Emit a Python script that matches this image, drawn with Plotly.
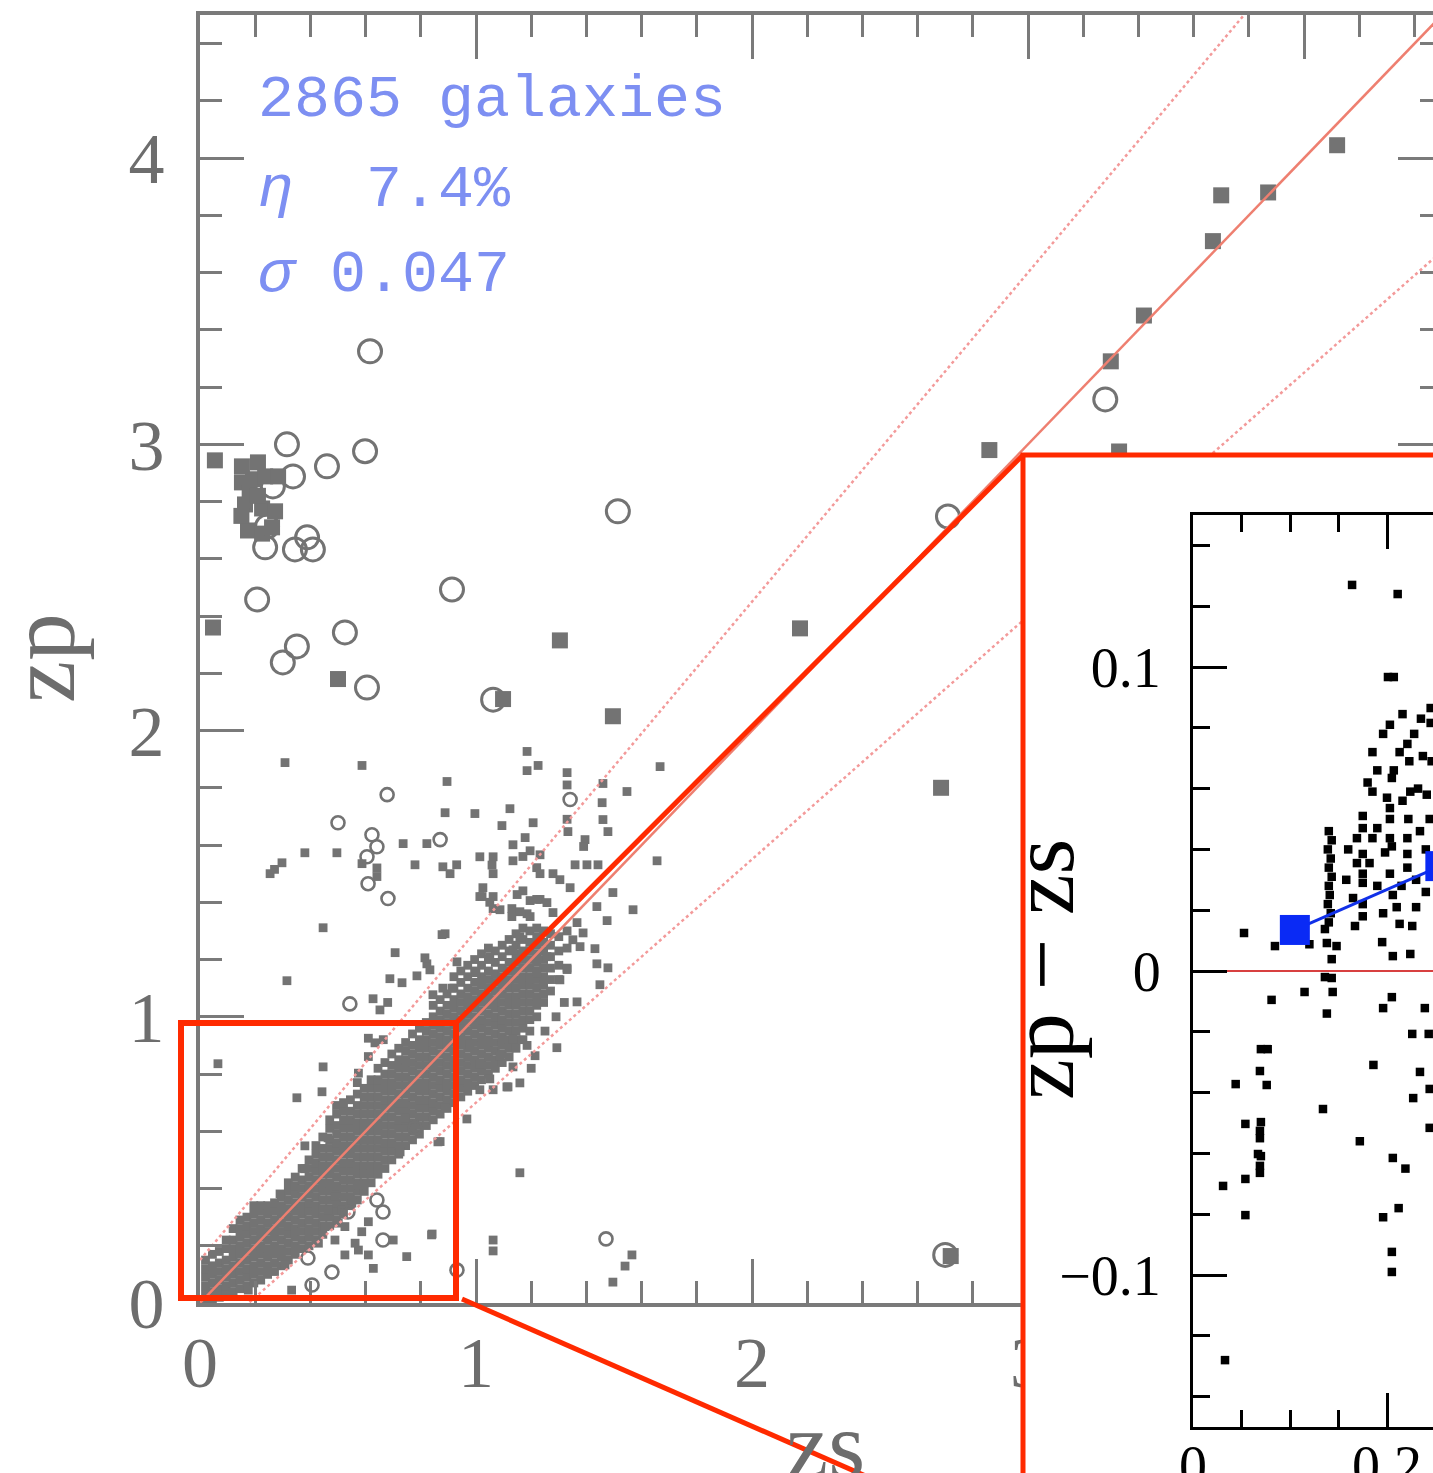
import plotly.graph_objects as go

# ---------------------------------------------------------------------------
# Photometric vs spectroscopic redshift for the galaxy sample
# ---------------------------------------------------------------------------

# Dense core of the zp-zs relation: one entry per zs column, listing zp values
core_zs = [0.02, 0.045, 0.07, 0.095, 0.12, 0.145, 0.17, 0.195, 0.22, 0.245,
           0.27, 0.295, 0.32, 0.345, 0.37, 0.395, 0.42, 0.445, 0.47, 0.495,
           0.52, 0.545, 0.57, 0.595, 0.62, 0.645, 0.67, 0.695, 0.72, 0.745,
           0.77, 0.795, 0.82, 0.845, 0.87, 0.895, 0.92, 0.945, 0.97, 0.995,
           1.02, 1.045, 1.07, 1.095, 1.12, 1.145, 1.17, 1.195, 1.22, 1.245,
           1.27, 1.30, 1.33]
core_zp = [
    [0.00, 0.03, 0.06, 0.09, 0.12, 0.15],
    [0.01, 0.04, 0.07, 0.10, 0.13, 0.17],
    [0.02, 0.05, 0.08, 0.11, 0.14, 0.18],
    [0.03, 0.06, 0.09, 0.12, 0.15, 0.19, 0.22],
    [0.04, 0.07, 0.10, 0.13, 0.16, 0.19, 0.22, 0.26],
    [0.05, 0.08, 0.11, 0.14, 0.17, 0.20, 0.23, 0.26, 0.29],
    [0.06, 0.09, 0.12, 0.15, 0.18, 0.21, 0.24, 0.27, 0.30],
    [0.07, 0.10, 0.13, 0.16, 0.19, 0.22, 0.25, 0.28, 0.31, 0.34],
    [0.08, 0.11, 0.14, 0.17, 0.20, 0.23, 0.26, 0.29, 0.32, 0.34],
    [0.10, 0.13, 0.16, 0.19, 0.22, 0.25, 0.28, 0.31, 0.34],
    [0.11, 0.14, 0.17, 0.20, 0.23, 0.26, 0.29, 0.32, 0.35],
    [0.13, 0.16, 0.19, 0.22, 0.25, 0.28, 0.31, 0.34, 0.37],
    [0.15, 0.18, 0.21, 0.24, 0.27, 0.30, 0.33, 0.36, 0.39, 0.42],
    [0.17, 0.20, 0.23, 0.26, 0.29, 0.32, 0.35, 0.38, 0.41, 0.44],
    [0.19, 0.22, 0.25, 0.28, 0.31, 0.34, 0.37, 0.40, 0.43, 0.47],
    [0.20, 0.23, 0.26, 0.29, 0.32, 0.35, 0.38, 0.41, 0.44, 0.47, 0.50],
    [0.22, 0.25, 0.28, 0.31, 0.34, 0.37, 0.40, 0.43, 0.46, 0.49, 0.52, 0.55],
    [0.24, 0.27, 0.30, 0.33, 0.36, 0.39, 0.42, 0.45, 0.48, 0.51, 0.54, 0.58],
    [0.27, 0.30, 0.33, 0.36, 0.39, 0.42, 0.45, 0.48, 0.51, 0.54, 0.57, 0.61, 0.64],
    [0.29, 0.32, 0.35, 0.38, 0.41, 0.44, 0.47, 0.50, 0.53, 0.56, 0.59, 0.62, 0.66, 0.69],
    [0.31, 0.34, 0.37, 0.40, 0.43, 0.46, 0.49, 0.52, 0.55, 0.58, 0.61, 0.64, 0.67, 0.70],
    [0.34, 0.37, 0.40, 0.43, 0.46, 0.49, 0.52, 0.55, 0.58, 0.61, 0.64, 0.67, 0.71],
    [0.36, 0.39, 0.42, 0.45, 0.48, 0.51, 0.54, 0.57, 0.60, 0.63, 0.66, 0.69, 0.73, 0.77],
    [0.39, 0.42, 0.45, 0.48, 0.51, 0.54, 0.57, 0.60, 0.63, 0.66, 0.69, 0.72, 0.75],
    [0.42, 0.45, 0.48, 0.51, 0.54, 0.57, 0.60, 0.63, 0.66, 0.69, 0.72, 0.75, 0.78],
    [0.45, 0.48, 0.51, 0.54, 0.57, 0.60, 0.63, 0.66, 0.69, 0.72, 0.75, 0.78, 0.82],
    [0.47, 0.50, 0.53, 0.56, 0.59, 0.62, 0.65, 0.68, 0.71, 0.74, 0.77, 0.80, 0.84],
    [0.50, 0.53, 0.56, 0.59, 0.62, 0.65, 0.68, 0.71, 0.74, 0.77, 0.80, 0.83, 0.87],
    [0.52, 0.55, 0.58, 0.61, 0.64, 0.67, 0.70, 0.73, 0.76, 0.79, 0.82, 0.85, 0.89],
    [0.55, 0.58, 0.61, 0.64, 0.67, 0.70, 0.73, 0.76, 0.79, 0.82, 0.85, 0.88, 0.91],
    [0.57, 0.60, 0.63, 0.66, 0.69, 0.72, 0.75, 0.78, 0.81, 0.84, 0.87, 0.90, 0.94],
    [0.59, 0.62, 0.65, 0.68, 0.71, 0.74, 0.77, 0.80, 0.83, 0.86, 0.89, 0.92, 0.96],
    [0.62, 0.65, 0.68, 0.71, 0.74, 0.77, 0.80, 0.83, 0.86, 0.89, 0.92, 0.95, 0.98],
    [0.64, 0.67, 0.70, 0.73, 0.76, 0.79, 0.82, 0.85, 0.88, 0.91, 0.94, 0.97, 1.00, 1.04],
    [0.66, 0.69, 0.72, 0.75, 0.78, 0.81, 0.84, 0.87, 0.90, 0.93, 0.96, 0.99, 1.02, 1.06],
    [0.68, 0.71, 0.74, 0.77, 0.80, 0.83, 0.86, 0.89, 0.92, 0.95, 0.98, 1.01, 1.04, 1.08],
    [0.70, 0.73, 0.76, 0.79, 0.82, 0.85, 0.88, 0.91, 0.94, 0.97, 1.00, 1.03, 1.06, 1.10, 1.14],
    [0.72, 0.75, 0.78, 0.81, 0.84, 0.87, 0.90, 0.93, 0.96, 0.99, 1.02, 1.05, 1.08, 1.12, 1.16],
    [0.74, 0.77, 0.80, 0.83, 0.86, 0.89, 0.92, 0.95, 0.98, 1.01, 1.04, 1.07, 1.10, 1.14, 1.18],
    [0.76, 0.79, 0.82, 0.85, 0.88, 0.91, 0.94, 0.97, 1.00, 1.03, 1.06, 1.09, 1.12, 1.16, 1.20],
    [0.78, 0.81, 0.84, 0.87, 0.90, 0.93, 0.96, 0.99, 1.02, 1.05, 1.08, 1.11, 1.14, 1.18, 1.22],
    [0.80, 0.83, 0.86, 0.89, 0.92, 0.95, 0.98, 1.01, 1.04, 1.07, 1.10, 1.13, 1.16, 1.20, 1.24],
    [0.82, 0.85, 0.88, 0.91, 0.94, 0.97, 1.00, 1.03, 1.06, 1.09, 1.12, 1.15, 1.19, 1.23],
    [0.84, 0.87, 0.90, 0.93, 0.96, 0.99, 1.02, 1.05, 1.08, 1.11, 1.14, 1.17, 1.21, 1.25],
    [0.86, 0.89, 0.92, 0.95, 0.98, 1.01, 1.04, 1.07, 1.10, 1.13, 1.16, 1.19, 1.23, 1.27],
    [0.89, 0.92, 0.95, 0.98, 1.01, 1.04, 1.07, 1.10, 1.13, 1.16, 1.19, 1.22, 1.25, 1.29],
    [0.92, 0.96, 0.99, 1.02, 1.05, 1.08, 1.11, 1.14, 1.17, 1.20, 1.23, 1.27, 1.31],
    [0.95, 0.99, 1.02, 1.05, 1.08, 1.11, 1.14, 1.17, 1.20, 1.23, 1.26, 1.30],
    [1.00, 1.04, 1.07, 1.10, 1.13, 1.16, 1.19, 1.22, 1.25, 1.28, 1.31],
    [1.05, 1.08, 1.11, 1.14, 1.17, 1.20, 1.23, 1.26, 1.30],
    [1.09, 1.13, 1.17, 1.21, 1.25, 1.29],
    [1.13, 1.18, 1.23, 1.28],
    [1.17, 1.24, 1.30],
]

# Individual galaxies outside the dense core (small filled squares)
scatter_pts = [
    (0.308, 1.888), (0.587, 1.878), (0.895, 1.822), (1.185, 1.927), (1.185, 1.86),
    (1.225, 1.878), (1.33, 1.853), (1.33, 1.81), (1.46, 1.815), (1.547, 1.787),
    (1.667, 1.874), (1.457, 1.748), (1.46, 1.689), (1.478, 1.647), (0.888, 1.713),
    (0.996, 1.71), (1.123, 1.727), (1.207, 1.678), (1.094, 1.668), (1.178, 1.626),
    (1.33, 1.69), (1.333, 1.647), (1.395, 1.619), (1.39, 1.595), (1.134, 1.601),
    (1.196, 1.58), (1.17, 1.56), (1.232, 1.566), (0.38, 1.573), (0.496, 1.573),
    (0.297, 1.538), (0.254, 1.50), (0.27, 1.515), (0.736, 1.605), (0.822, 1.605),
    (0.779, 1.531), (0.88, 1.524), (0.906, 1.50), (0.93, 1.531), (0.587, 1.535),
    (0.641, 1.52), (0.641, 1.49), (1.014, 1.559), (1.062, 1.559), (1.058, 1.53),
    (1.062, 1.50), (1.134, 1.545), (1.22, 1.521), (1.232, 1.50), (1.279, 1.50),
    (1.304, 1.479), (1.341, 1.451), (1.359, 1.531), (1.402, 1.531), (1.442, 1.531),
    (1.656, 1.545), (1.025, 1.451), (1.022, 1.42), (1.062, 1.42), (1.062, 1.378),
    (1.13, 1.378), (1.149, 1.427), (1.17, 1.44), (1.196, 1.406), (1.232, 1.41),
    (1.257, 1.399), (1.185, 1.36), (1.13, 1.35), (1.438, 1.385), (1.496, 1.434),
    (1.569, 1.374), (1.475, 1.336), (1.431, 1.238), (1.438, 1.185), (1.478, 1.171),
    (1.449, 1.112), (1.366, 1.052), (1.293, 0.892), (1.112, 0.755), (1.062, 0.745),
    (1.014, 0.745), (0.967, 0.643), (1.159, 0.455), (0.446, 1.311), (0.888, 1.29),
    (0.707, 1.224), (0.315, 1.126), (0.688, 1.133), (0.732, 1.119), (0.786, 1.143),
    (0.822, 1.185), (0.931, 1.192), (0.627, 1.063), (0.68, 1.05), (0.652, 1.024),
    (0.844, 1.077), (0.065, 0.836), (0.446, 0.825), (0.442, 0.738), (0.351, 0.717),
    (0.38, 0.549), (0.38, 0.469), (0.29, 0.381), (1.159, 0.769), (0.725, 0.528),
    (0.862, 0.563), (0.841, 0.241), (1.062, 0.22), (1.062, 0.182), (1.565, 0.168),
    (1.54, 0.129), (1.496, 0.073), (0.464, 0.577),
    (1.304, 1.129), (1.33, 1.165), (1.22, 1.154), (1.257, 1.21), (1.351, 1.269),
    (1.377, 1.245), (1.388, 1.293), (1.366, 1.329), (1.279, 1.364), (1.22, 1.41),
    (1.196, 1.35), (1.159, 1.367), (1.087, 1.374), (1.014, 1.42), (1.05, 1.40),
    (0.877, 1.287), (0.815, 1.206), (0.833, 1.164), (0.913, 1.10), (0.88, 1.10),
    (1.05, 1.21), (1.0, 1.154), (1.134, 1.234), (1.159, 1.28),
    (0.978, 0.906), (1.014, 0.836), (1.087, 0.864), (1.134, 0.923), (1.185, 0.90),
    (1.134, 0.825), (1.05, 0.783), (1.116, 0.755), (1.214, 0.864), (1.25, 0.95),
    (1.20, 0.82), (1.29, 1.0), (1.32, 1.05), (0.888, 0.682), (0.87, 0.564),
    (0.743, 0.646),
    (0.61, 0.925), (0.61, 0.861), (0.574, 0.803), (0.664, 0.92), (0.634, 0.909),
    (0.574, 0.413), (0.513, 0.325), (0.453, 0.267), (0.61, 0.284), (0.586, 0.249),
    (0.574, 0.185), (0.61, 0.168), (0.525, 0.168), (0.628, 0.121), (0.749, 0.162),
    (0.839, 0.238), (0.70, 0.22), (0.308, 0.133), (0.175, 0.045), (0.332, 0.045),
    (0.501, 0.279), (0.489, 0.372), (0.55, 0.349), (0.465, 0.325), (0.525, 0.267),
    (0.562, 0.209), (0.489, 0.22), (0.429, 0.209),
]

# Small open circles
small_circ_zs = [0.678, 0.50, 0.623, 0.641, 0.605, 0.609, 0.681, 0.87, 1.341, 0.543,
                 1.471, 0.931, 0.536, 0.641, 0.663, 0.663, 0.391, 0.478, 0.406, 0.779]
small_circ_zp = [1.776, 1.678, 1.636, 1.594, 1.559, 1.465, 1.413, 1.619, 1.759, 1.045,
                 0.224, 0.115, 0.318, 0.36, 0.318, 0.22, 0.157, 0.108, 0.063, 0.612]

# Large open circles
big_circ_zs = [0.616, 0.315, 0.598, 0.46, 0.337, 0.264, 0.243, 0.236, 0.344, 0.388,
               0.409, 1.514, 0.207, 0.913, 0.351, 0.30, 0.525, 0.605, 1.062, 3.28,
               2.71, 2.70]
big_circ_zp = [3.325, 3.0, 2.976, 2.923, 2.888, 2.853, 2.713, 2.64, 2.633, 2.675,
               2.633, 2.766, 2.458, 2.493, 2.294, 2.238, 2.343, 2.15, 2.108, 3.157,
               2.748, 0.168]

# Large filled squares
big_sq_zs = [0.054, 0.047, 0.50, 1.098, 1.304, 1.496, 2.174, 2.685, 2.86, 3.30,
             3.42, 3.67, 3.70, 3.87, 4.12, 3.33, 2.72,
             0.152, 0.210, 0.152, 0.192, 0.236, 0.283, 0.163, 0.225, 0.272, 0.174,
             0.225, 0.261, 0.18, 0.21, 0.15]
big_sq_zp = [2.944, 2.36, 2.18, 2.11, 2.315, 2.05, 2.357, 1.80, 2.98, 3.29,
             3.45, 3.71, 3.87, 3.88, 4.045, 2.975, 0.164,
             2.923, 2.937, 2.867, 2.878, 2.888, 2.888, 2.79, 2.776, 2.766, 2.699,
             2.688, 2.71, 2.83, 2.82, 2.75]

# Summary statistics
n_gal = 2865
eta_pct = 7.4
sigma = 0.047
ETA_CUT = 0.15          # |zp - zs| > 0.15 (1 + zs) defines an outlier
diag_zs = [0.0, 4.5]

# Zoomed residual panel (zp - zs vs zs)
ins_pts = [
    (0.164, 0.127), (0.211, 0.124), (0.201, 0.0967), (0.207, 0.0967), (0.216, 0.0845),
    (0.203, 0.081), (0.196, 0.078), (0.245, 0.0865), (0.245, 0.0816), (0.185, 0.072),
    (0.221, 0.0747), (0.223, 0.069), (0.237, 0.0707), (0.246, 0.069), (0.207, 0.066),
    (0.205, 0.0635), (0.185, 0.059), (0.200, 0.057), (0.203, 0.0536), (0.216, 0.056),
    (0.224, 0.059), (0.232, 0.060), (0.241, 0.058), (0.244, 0.050), (0.175, 0.051),
    (0.203, 0.050), (0.222, 0.050), (0.234, 0.046), (0.175, 0.047), (0.190, 0.047),
    (0.169, 0.0437), (0.185, 0.0437), (0.203, 0.0437), (0.221, 0.0437), (0.198, 0.039),
    (0.205, 0.041), (0.175, 0.0385), (0.221, 0.0385), (0.169, 0.0355), (0.182, 0.0355),
    (0.203, 0.032), (0.221, 0.034), (0.175, 0.032), (0.175, 0.029), (0.206, 0.025),
    (0.210, 0.021), (0.175, 0.022), (0.196, 0.019),
    (0.180, 0.062), (0.190, 0.066), (0.213, 0.072), (0.228, 0.078), (0.235, 0.083),
    (0.190, 0.028), (0.215, 0.028), (0.230, 0.030), (0.240, 0.040), (0.195, 0.0095),
    (0.230, 0.021), (0.240, 0.026), (0.160, 0.040), (0.158, 0.030), (0.165, 0.024),
    (0.140, 0.046), (0.143, 0.043), (0.139, 0.040), (0.142, 0.037), (0.140, 0.034),
    (0.143, 0.031), (0.140, 0.028), (0.141, 0.025), (0.139, 0.022), (0.142, 0.019),
    (0.140, 0.016),
    (0.0526, 0.0125), (0.0845, 0.0082), (0.12, 0.0088), (0.136, 0.0138), (0.138, 0.0092),
    (0.148, 0.0082), (0.143, 0.0039), (0.143, -0.0023), (0.136, -0.0020), (0.115, -0.0069),
    (0.144, -0.0069), (0.081, -0.0095), (0.138, -0.014), (0.167, 0.0148), (0.175, 0.018),
    (0.213, 0.0155), (0.226, 0.0148), (0.206, 0.0049), (0.224, 0.0056), (0.205, -0.0086),
    (0.196, -0.0122), (0.239, -0.0122), (0.226, -0.0207), (0.243, -0.0207), (0.234, -0.0332),
    (0.244, -0.0388), (0.227, -0.0418), (0.244, -0.0516), (0.186, -0.0309), (0.134, -0.0454),
    (0.172, -0.056), (0.206, -0.0615), (0.219, -0.065), (0.212, -0.078), (0.196, -0.081),
    (0.205, -0.0924), (0.205, -0.099), (0.070, -0.0257), (0.077, -0.0257), (0.069, -0.0329),
    (0.044, -0.0372), (0.076, -0.0375), (0.054, -0.0503), (0.070, -0.0497), (0.069, -0.0526),
    (0.069, -0.055), (0.067, -0.0602), (0.070, -0.0609), (0.069, -0.0641), (0.069, -0.0664),
    (0.054, -0.0684), (0.031, -0.0707), (0.054, -0.0803), (0.033, -0.128),
]
bin_zs = [0.105, 0.255]
bin_dz = [0.0135, 0.0345]

# ---------------------------------------------------------------------------
# Canvas geometry (pixels); the page shows the top-left VIEW_W x VIEW_H window
# ---------------------------------------------------------------------------
W, H = 2300, 1650
VIEW_W, VIEW_H = 1433, 1473


def fx(x):
    return x / W


def fy(y):
    return 1 - y / H


GRAY = "#737373"
AXGRAY = "#7a7a7a"
LABGRAY = "#6d6d6d"
RED = "#ff2a00"
SALMON = "#ee7f70"
TXTBLUE = "#7d8ff2"
SERIF = "Liberation Serif"

fig = go.Figure()

# --- main panel -------------------------------------------------------------
cz_x = [zs for zs, col in zip(core_zs, core_zp) for _ in col]
cz_y = [v for col in core_zp for v in col]
sc_x = [p[0] for p in scatter_pts]
sc_y = [p[1] for p in scatter_pts]

fig.add_trace(go.Scatter(x=cz_x + sc_x, y=cz_y + sc_y, mode="markers",
                         marker=dict(symbol="square", size=8.8, color=GRAY, line=dict(width=0))))
fig.add_trace(go.Scatter(x=small_circ_zs, y=small_circ_zp, mode="markers",
                         marker=dict(symbol="circle-open", size=13, color=GRAY, line=dict(width=2.6))))
fig.add_trace(go.Scatter(x=big_circ_zs, y=big_circ_zp, mode="markers",
                         marker=dict(symbol="circle-open", size=23, color=GRAY, line=dict(width=3))))
fig.add_trace(go.Scatter(x=big_sq_zs, y=big_sq_zp, mode="markers",
                         marker=dict(symbol="square", size=16, color=GRAY, line=dict(width=0))))

fig.add_trace(go.Scatter(x=diag_zs, y=diag_zs, mode="lines",
                         line=dict(color=SALMON, width=2.5)))
fig.add_trace(go.Scatter(x=diag_zs, y=[z + ETA_CUT * (1 + z) for z in diag_zs], mode="lines",
                         line=dict(color="#f39a9a", width=2.5, dash="dot")))
fig.add_trace(go.Scatter(x=diag_zs, y=[z - ETA_CUT * (1 + z) for z in diag_zs], mode="lines",
                         line=dict(color="#f39a9a", width=2.5, dash="dot")))

# --- opaque frame behind the zoomed panel --------------------------------------
fig.add_trace(go.Scatter(x=[], y=[], xaxis="x2", yaxis="y2", mode="markers"))

# --- zoomed residual panel ---------------------------------------------------
fig.add_trace(go.Scatter(x=[0, 1.0], y=[0, 0], xaxis="x3", yaxis="y3", mode="lines",
                         line=dict(color="#d84040", width=2)))
fig.add_trace(go.Scatter(x=[p[0] for p in ins_pts], y=[p[1] for p in ins_pts],
                         xaxis="x3", yaxis="y3", mode="markers",
                         marker=dict(symbol="square", size=8.5, color="black", line=dict(width=0))))
fig.add_trace(go.Scatter(x=bin_zs, y=bin_dz, xaxis="x3", yaxis="y3", mode="lines+markers",
                         line=dict(color="#1030e8", width=3),
                         marker=dict(symbol="square", size=30, color="#0a2af5", line=dict(width=0))))


def main_axis(standoff):
    return dict(
        showline=True, linecolor=AXGRAY, linewidth=4, mirror="allticks",
        ticks="inside", ticklen=44, tickwidth=3, tickcolor=AXGRAY,
        tick0=0, dtick=1, showgrid=False, zeroline=False, automargin=False,
        tickfont=dict(family=SERIF, size=72, color=LABGRAY),
        ticklabelstandoff=standoff,
        minor=dict(ticks="inside", ticklen=22, tickwidth=3, tickcolor=AXGRAY,
                   tick0=0, dtick=0.2, showgrid=False),
    )


def ins_axis(standoff):
    return dict(
        showline=True, linecolor="black", linewidth=3, mirror="allticks",
        ticks="inside", ticklen=34, tickwidth=3, tickcolor="black",
        showgrid=False, zeroline=False, automargin=False,
        tickfont=dict(family=SERIF, size=56, color="black"),
        ticklabelstandoff=standoff,
    )


fig.update_layout(
    template="none",
    width=W, height=H, autosize=False,
    margin=dict(l=0, r=0, t=0, b=0, pad=0),
    paper_bgcolor="white", plot_bgcolor="white",
    showlegend=False,
    xaxis=dict(domain=[fx(200), fx(1442)], range=[0, 4.5], anchor="y", **main_axis(-6)),
    yaxis=dict(domain=[fy(1303), fy(15)], range=[0, 4.5], anchor="x", **main_axis(17)),
    xaxis2=dict(domain=[fx(1023), fx(2200)], range=[0, 1], anchor="y2", visible=False,
                automargin=False),
    yaxis2=dict(domain=[fy(1545), fy(455)], range=[0, 1], anchor="x2", visible=False,
                automargin=False),
    xaxis3=dict(domain=[fx(1193), fx(2163)], range=[0, 1.0], anchor="y3",
                tick0=0, dtick=0.2,
                minor=dict(ticks="inside", ticklen=17, tickwidth=3, tickcolor="black",
                           tick0=0, dtick=0.05, showgrid=False),
                **ins_axis(-12)),
    yaxis3=dict(domain=[fy(1427), fy(515)], range=[-0.15, 0.15], anchor="x3",
                tick0=0, dtick=0.1,
                minor=dict(ticks="inside", ticklen=17, tickwidth=3, tickcolor="black",
                           tick0=0, dtick=0.02, showgrid=False),
                **ins_axis(18)),
)

# zoom-region outlines and connectors
fig.add_shape(type="rect", xref="paper", yref="paper",
              x0=fx(181), x1=fx(456), y0=fy(1298), y1=fy(1023),
              line=dict(color=RED, width=6), layer="above")
fig.add_shape(type="rect", xref="paper", yref="paper",
              x0=fx(1023), x1=fx(2200), y0=fy(1545), y1=fy(455),
              line=dict(color=RED, width=5), layer="above")
fig.add_shape(type="line", xref="paper", yref="paper",
              x0=fx(456), y0=fy(1023), x1=fx(1023), y1=fy(455),
              line=dict(color=RED, width=5), layer="above")
fig.add_shape(type="line", xref="paper", yref="paper",
              x0=fx(462), y0=fy(1299), x1=fx(1023), y1=fy(1545),
              line=dict(color=RED, width=5), layer="above")

# statistics text block
stat_lines = [f"{n_gal} galaxies", f"<i>η</i>  {eta_pct}%", f"<i>σ</i> {sigma}"]
for txt, ypix in zip(stat_lines, [100, 190, 275]):
    fig.add_annotation(text=txt, xref="paper", yref="paper", x=fx(256), y=fy(ypix),
                       xanchor="left", yanchor="middle", showarrow=False,
                       font=dict(family="Liberation Mono", size=60, color=TXTBLUE))

# axis titles
fig.add_annotation(text="zp", xref="paper", yref="paper", x=fx(42), y=fy(658),
                   textangle=-90, showarrow=False, xanchor="center", yanchor="middle",
                   font=dict(family=SERIF, size=95, color=LABGRAY))
fig.add_annotation(text="zs", xref="paper", yref="paper", x=fx(825), y=fy(1445),
                   showarrow=False, xanchor="center", yanchor="middle",
                   font=dict(family=SERIF, size=95, color=LABGRAY))
fig.add_annotation(text="zp − zs", xref="paper", yref="paper", x=fx(1042), y=fy(970),
                   textangle=-90, showarrow=False, xanchor="center", yanchor="middle",
                   font=dict(family=SERIF, size=92, color="black"))

crop_js = (
    "var gd=document.getElementById('{plot_id}');"
    "var w=gd.parentElement;"
    f"w.style.width='{VIEW_W}px';w.style.height='{VIEW_H}px';w.style.overflow='hidden';"
    "document.body.style.margin='0';document.body.style.overflow='hidden';"
)
fig.write_html("out.html", post_script=crop_js)
